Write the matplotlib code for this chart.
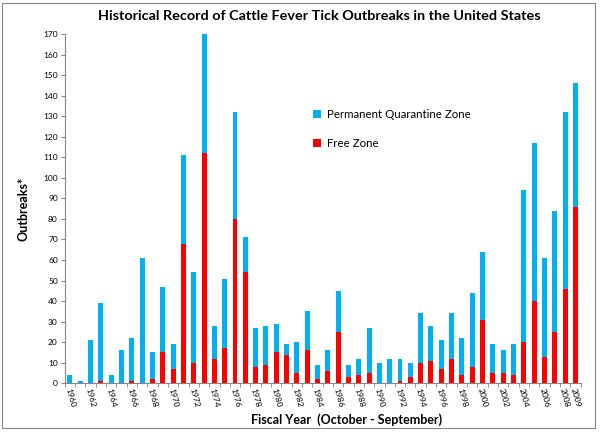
import matplotlib.pyplot as plt
from matplotlib.patches import Rectangle
import numpy as np

plt.rcParams['font.family'] = ['Lato', 'DejaVu Sans']

# fiscal years and outbreak counts
years = list(range(1960, 2010))
totals = [4, 1, 21, 39, 4, 16, 22, 61, 15, 47,
          19, 111, 54, 170, 28, 51, 132, 71, 27, 28,
          29, 19, 20, 35, 9, 16, 45, 9, 12, 27,
          10, 12, 12, 10, 34, 28, 21, 34, 22, 44,
          64, 19, 16, 19, 94, 117, 61, 84, 132, 146]
free_zone = [0, 0, 0, 1, 0, 0, 1, 0, 2, 15,
             7, 68, 10, 112, 12, 17, 80, 54, 8, 9,
             15, 14, 5, 16, 2, 6, 25, 3, 4, 5,
             0, 0, 1, 3, 10, 11, 7, 12, 4, 8,
             31, 5, 5, 4, 20, 40, 13, 25, 46, 86]
quarantine = [t - f for t, f in zip(totals, free_zone)]
tick_years = list(range(1960, 2009, 2)) + [2009]

blue = '#00B0F0'
red = '#FF0000'
grey = '#868686'

fig = plt.figure(figsize=(6, 4.32), dpi=100)
ax = fig.add_axes([0.108, 0.1127, 0.8595, 0.8086])

x = np.arange(len(years))
ax.bar(x, free_zone, width=0.48, color=red, label='Free Zone', zorder=2)
ax.bar(x, quarantine, width=0.48, bottom=free_zone, color=blue,
       label='Permanent Quarantine Zone', zorder=2)

ax.set_xlim(-0.5, len(years) - 0.5)
ax.set_ylim(0, 170)
ax.set_yticks(range(0, 171, 10))
ax.tick_params(axis='y', labelsize=6, length=3, color=grey, pad=2)

ax.set_xticks([years.index(y) for y in tick_years])
ax.set_xticklabels([str(y) for y in tick_years], rotation=-75, fontsize=6)
ax.tick_params(axis='x', which='major', length=0, pad=3)
ax.set_xticks(np.arange(-0.5, len(years), 1), minor=True)
ax.tick_params(axis='x', which='minor', length=3, color=grey)

for s in ['top', 'right']:
    ax.spines[s].set_visible(False)
for s in ['left', 'bottom']:
    ax.spines[s].set_color(grey)
    ax.spines[s].set_linewidth(0.8)

handles, labels = ax.get_legend_handles_labels()
ax.legend(handles[::-1], labels[::-1], loc='upper left',
          bbox_to_anchor=(0.462, 0.815), frameon=False, fontsize=8.3,
          handlelength=0.7, handleheight=0.7, handletextpad=0.45,
          labelspacing=1.55)

fig.text(0.533, 0.962, 'Historical Record of Cattle Fever Tick Outbreaks in the United States',
         ha='center', va='center', fontsize=10.4, fontweight='bold')
fig.text(0.578, 0.028, 'Fiscal Year  (October - September)',
         ha='center', va='center', fontsize=9, fontweight='bold')
fig.text(0.04, 0.516, 'Outbreaks*', ha='center', va='center',
         rotation=90, fontsize=9, fontweight='bold')

fig.patches.append(Rectangle((0.004, 0.01), 0.988, 0.982, transform=fig.transFigure,
                             fill=False, edgecolor=grey, linewidth=0.8))

fig.savefig('out.png', dpi=100)
